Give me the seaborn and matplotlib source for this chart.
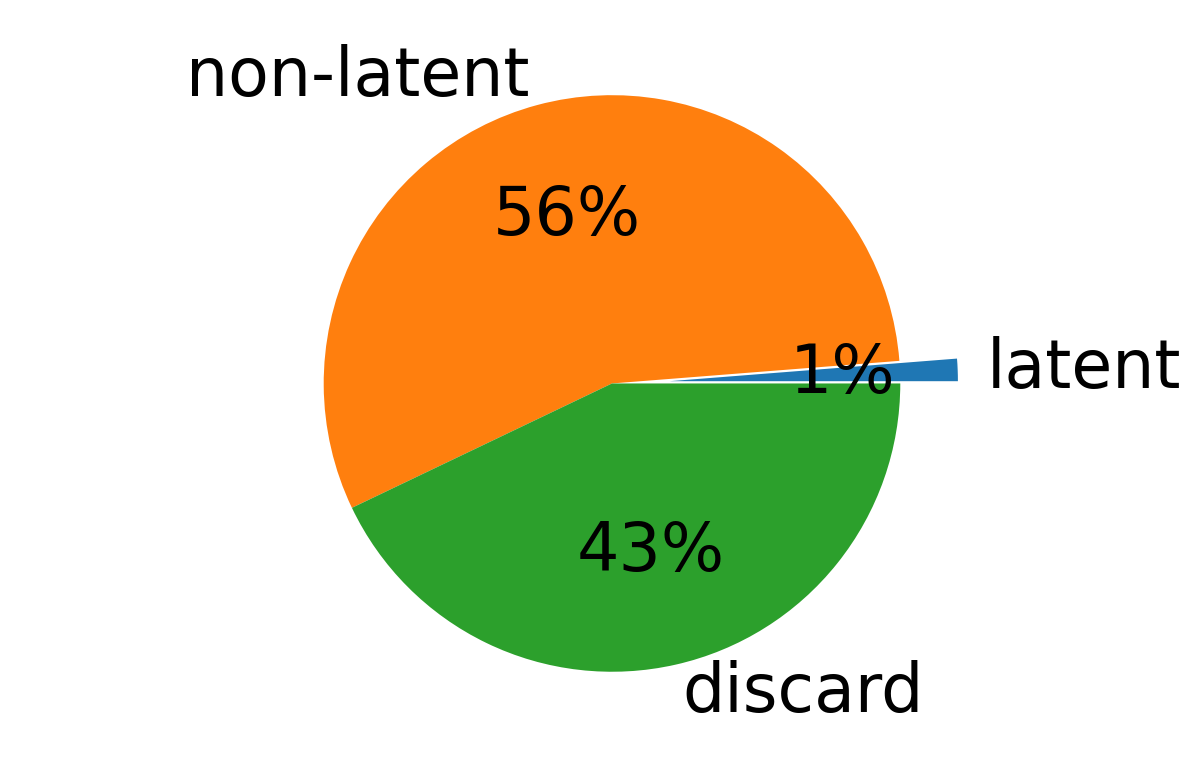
import matplotlib
matplotlib.use("Agg")
import matplotlib.pyplot as plt
import seaborn as sns

labels = ["latent", "non-latent", "discard"]
values = [1.25, 55.85, 42.9]
explode = [0.2, 0, 0]

colors = sns.color_palette("tab10", 3)

fig = plt.figure(figsize=(11.96, 7.7), dpi=100)
ax = fig.add_axes([0.2097, 0.034, 0.604, 0.936])
ax.pie(values, labels=labels, explode=explode, colors=colors,
       autopct="%1.0f%%", textprops={"fontsize": 48})
ax.set_aspect("equal")
fig.savefig("out.png", dpi=100)
